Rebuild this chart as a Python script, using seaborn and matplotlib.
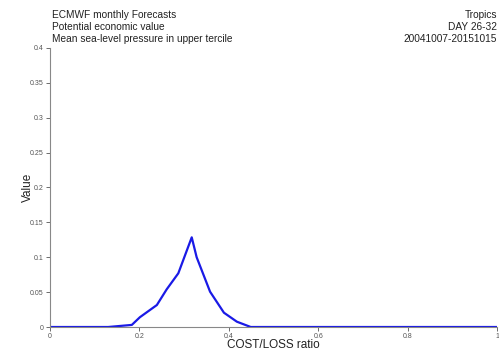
import matplotlib
matplotlib.use("Agg")
import matplotlib.pyplot as plt
import seaborn as sns
import pandas as pd

# cost/loss ratio and potential economic value
cost_loss = [0.0, 0.13, 0.183, 0.201, 0.239, 0.261, 0.287, 0.317, 0.328,
             0.358, 0.389, 0.418, 0.449, 1.0]
value = [0.0, 0.0, 0.003, 0.014, 0.0315, 0.054, 0.077, 0.1285, 0.100,
         0.0506, 0.0205, 0.0076, 0.0, 0.0]

x_ticks = [0, 0.2, 0.4, 0.6, 0.8, 1]
x_tick_labels = ["0", "0.2", "0.4", "0.6", "0.8", "1"]
y_ticks = [0, 0.05, 0.1, 0.15, 0.2, 0.25, 0.3, 0.35, 0.4]
y_tick_labels = ["0", "0.05", "0.1", "0.15", "0.2", "0.25", "0.3", "0.35", "0.4"]

title_left = ["ECMWF monthly Forecasts", "Potential economic value",
              "Mean sea-level pressure in upper tercile"]
title_right = ["Tropics", "DAY 26-32", "20041007-20151015"]

df = pd.DataFrame({"cost_loss": cost_loss, "value": value})

sns.set_style("white")
plt.rcParams["font.family"] = ["Liberation Sans", "DejaVu Sans"]

fig = plt.figure(figsize=(4.99, 3.52), dpi=100)
ax = fig.add_axes([0.1002, 0.071, 0.896, 0.793])

sns.lineplot(data=df, x="cost_loss", y="value", sort=False, ax=ax,
             color="#1a1ae6", linewidth=1.6)

ax.set_xlim(0, 1)
ax.set_ylim(0, 0.4)
ax.set_xticks(x_ticks)
ax.set_xticklabels(x_tick_labels)
ax.set_yticks(y_ticks)
ax.set_yticklabels(y_tick_labels)
ax.tick_params(axis="both", labelsize=5, colors="#555555", length=3,
               width=0.6, direction="out", pad=1.5)
ax.tick_params(axis="both", left=True, bottom=True)
for side in ["top", "right"]:
    ax.spines[side].set_visible(False)
for side in ["left", "bottom"]:
    ax.spines[side].set_color("#888888")
    ax.spines[side].set_linewidth(0.8)

ax.set_xlabel("COST/LOSS ratio", fontsize=8.5, color="#222222", va="center")
ax.set_ylabel("Value", fontsize=8.5, color="#222222", va="center")
ax.xaxis.set_label_coords(0.5, -0.066)
ax.yaxis.set_label_coords(-0.049, 0.5)

for i, t in enumerate(title_left):
    fig.text(52 / 499, 1 - (15 + 12 * i) / 352, t, fontsize=7.3,
             va="center", ha="left", color="#222222")
for i, t in enumerate(title_right):
    fig.text(497 / 499, 1 - (15 + 12 * i) / 352, t, fontsize=7.3,
             va="center", ha="right", color="#222222")

fig.savefig("out.png", dpi=100)
